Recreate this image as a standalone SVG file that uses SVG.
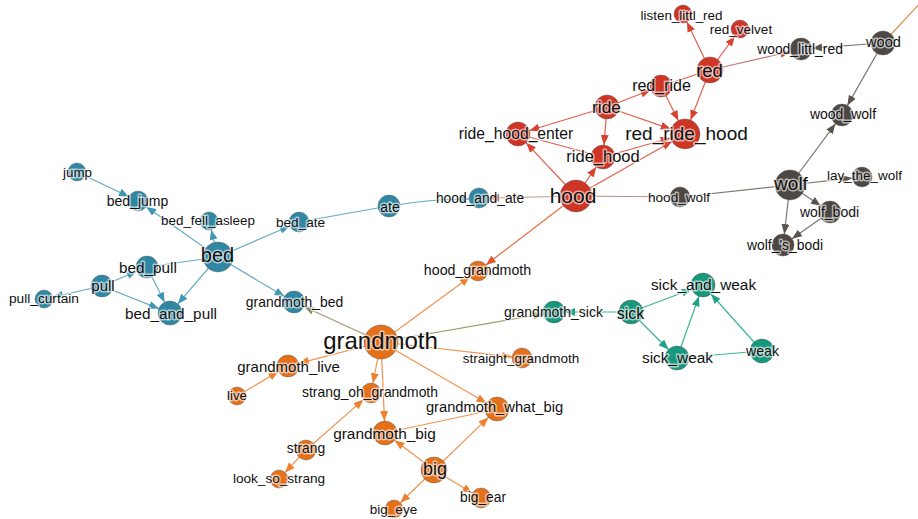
<svg xmlns="http://www.w3.org/2000/svg" width="918" height="519" viewBox="0 0 918 519">
  <style>
    .e { fill: none; stroke-width: 1.2; }
    .eb { stroke: #64aac3; }
    .er { stroke: #e0604e; }
    .eg { stroke: #7d7770; }
    .eo { stroke: #f39250; }
    .et { stroke: #3db596; }
    .n { stroke: #5a5a5a; stroke-opacity: 0.45; stroke-width: 1; }
    .nb { fill: #2f87a3; }
    .nr { fill: #cf3525; }
    .ng { fill: #4d4843; }
    .no { fill: #e5701a; }
    .nt { fill: #17977b; }
    text { font-family: "Liberation Sans", Arial, sans-serif; fill: #111; text-anchor: middle; dominant-baseline: central;
           stroke: #ffffff; stroke-opacity: 0.6; stroke-width: 3; stroke-linejoin: round; paint-order: stroke; }
  </style>
  <defs>
    <marker id="ab" viewBox="0 0 10 8" refX="10" refY="4" markerWidth="10" markerHeight="8" markerUnits="userSpaceOnUse" orient="auto"><path d="M0,0 L10,4 L0,8 z" fill="#3f97b3"/></marker>
    <marker id="ar" viewBox="0 0 10 8" refX="10" refY="4" markerWidth="10" markerHeight="8" markerUnits="userSpaceOnUse" orient="auto"><path d="M0,0 L10,4 L0,8 z" fill="#d8402f"/></marker>
    <marker id="ag" viewBox="0 0 10 8" refX="10" refY="4" markerWidth="10" markerHeight="8" markerUnits="userSpaceOnUse" orient="auto"><path d="M0,0 L10,4 L0,8 z" fill="#5a544e"/></marker>
    <marker id="ao" viewBox="0 0 10 8" refX="10" refY="4" markerWidth="10" markerHeight="8" markerUnits="userSpaceOnUse" orient="auto"><path d="M0,0 L10,4 L0,8 z" fill="#ee7f2e"/></marker>
    <marker id="at" viewBox="0 0 10 8" refX="10" refY="4" markerWidth="10" markerHeight="8" markerUnits="userSpaceOnUse" orient="auto"><path d="M0,0 L10,4 L0,8 z" fill="#1fa384"/></marker>
    <marker id="aor" viewBox="0 0 10 8" refX="10" refY="4" markerWidth="10" markerHeight="8" markerUnits="userSpaceOnUse" orient="auto"><path d="M0,0 L10,4 L0,8 z" fill="#e2562a"/></marker>
    <marker id="aob" viewBox="0 0 10 8" refX="10" refY="4" markerWidth="10" markerHeight="8" markerUnits="userSpaceOnUse" orient="auto"><path d="M0,0 L10,4 L0,8 z" fill="#93876a"/></marker>
    <marker id="aot" viewBox="0 0 10 8" refX="10" refY="4" markerWidth="10" markerHeight="8" markerUnits="userSpaceOnUse" orient="auto"><path d="M0,0 L10,4 L0,8 z" fill="#7f8f4e"/></marker>
    <marker id="arg" viewBox="0 0 10 8" refX="10" refY="4" markerWidth="10" markerHeight="8" markerUnits="userSpaceOnUse" orient="auto"><path d="M0,0 L10,4 L0,8 z" fill="#b0574b"/></marker>
    <marker id="arb" viewBox="0 0 10 8" refX="10" refY="4" markerWidth="10" markerHeight="8" markerUnits="userSpaceOnUse" orient="auto"><path d="M0,0 L10,4 L0,8 z" fill="#b86c6a"/></marker>
  </defs>

  <g id="edges">
    <!-- bed cluster -->
    <line class="e eb" x1="77" y1="172" x2="129" y2="196.7" marker-end="url(#ab)"/>
    <line class="e eb" x1="218" y1="257" x2="146.2" y2="206.7" marker-end="url(#ab)"/>
    <line class="e eb" x1="218" y1="257" x2="211.2" y2="229.7" marker-end="url(#ab)"/>
    <line class="e eb" x1="218" y1="257" x2="289.8" y2="226" marker-end="url(#ab)"/>
    <line class="e eb" x1="218" y1="257" x2="284.5" y2="296.4" marker-end="url(#ab)"/>
    <line class="e eb" x1="218" y1="257" x2="177.8" y2="303.9" marker-end="url(#ab)"/>
    <line class="e eb" x1="218" y1="257" x2="147" y2="267"/>
    <line class="e eb" x1="102" y1="286" x2="136.9" y2="271.3" marker-end="url(#ab)"/>
    <line class="e eb" x1="102" y1="286" x2="158.9" y2="308.6" marker-end="url(#ab)"/>
    <line class="e eb" x1="147" y1="267" x2="164.6" y2="302.3" marker-end="url(#ab)"/>
    <line class="e eb" x1="102" y1="286" x2="52.8" y2="297" marker-end="url(#ab)"/>
    <line class="e eb" x1="389" y1="206" x2="299" y2="222"/>
    <path class="e eb" d="M389,206 Q430,199 469,199" marker-end="url(#ab)"/>
    <line class="e" stroke="#c9a3a1" x1="576" y1="196" x2="489" y2="198" marker-end="url(#arb)"/>

    <!-- hood / red cluster -->
    <line class="e er" x1="576" y1="196" x2="526.2" y2="142.8" marker-end="url(#ar)"/>
    <line class="e er" x1="576" y1="196" x2="596.2" y2="166.9" marker-end="url(#ar)"/>
    <line class="e er" x1="576" y1="196" x2="672" y2="141.4" marker-end="url(#ar)"/>
    <line class="e er" x1="607" y1="107" x2="529.5" y2="130.5" marker-end="url(#ar)"/>
    <line class="e er" x1="607" y1="107" x2="604" y2="145" marker-end="url(#ar)"/>
    <line class="e er" x1="607" y1="107" x2="650.7" y2="90" marker-end="url(#ar)"/>
    <line class="e er" x1="607" y1="107" x2="670.8" y2="129.1" marker-end="url(#ar)"/>
    <line class="e er" x1="518" y1="134" x2="603" y2="157"/>
    <line class="e er" x1="603" y1="157" x2="670.6" y2="138" marker-end="url(#ar)"/>
    <line class="e er" x1="661" y1="86" x2="678.3" y2="120.6" marker-end="url(#ar)"/>
    <line class="e er" x1="710" y1="70" x2="690.5" y2="120" marker-end="url(#ar)"/>
    <line class="e er" x1="710" y1="70" x2="661" y2="86"/>
    <line class="e er" x1="710" y1="70" x2="686.9" y2="22.1" marker-end="url(#ar)"/>
    <line class="e er" x1="710" y1="70" x2="734.7" y2="36.3" marker-end="url(#ar)"/>
    <line class="e" stroke="#c07a70" x1="710" y1="70" x2="790.3" y2="51.5" marker-end="url(#arg)"/>

    <!-- wolf cluster -->
    <line class="e eg" x1="883" y1="43" x2="812" y2="48.2" marker-end="url(#ag)"/>
    <line class="e eg" x1="883" y1="43" x2="847.4" y2="105.4" marker-end="url(#ag)"/>
    <line class="e eg" x1="790" y1="185" x2="835.4" y2="123.8" marker-end="url(#ag)"/>
    <line class="e eg" x1="790" y1="185" x2="852.1" y2="178.1" marker-end="url(#ag)"/>
    <line class="e eg" x1="790" y1="185" x2="820.9" y2="205.9" marker-end="url(#ag)"/>
    <line class="e eg" x1="790" y1="185" x2="784.3" y2="234.1" marker-end="url(#ag)"/>
    <line class="e eg" x1="830" y1="212" x2="792" y2="238.7" marker-end="url(#ag)"/>
    <line class="e" stroke="#b98c86" x1="576" y1="196" x2="680" y2="197"/>
    <line class="e eg" x1="680" y1="197" x2="790" y2="185"/>
    <line class="e" stroke="#d8944f" x1="883" y1="43" x2="924" y2="-1"/>

    <!-- grandmoth cluster -->
    <line class="e" stroke="#ea6c3c" x1="576" y1="196" x2="485.9" y2="264.9" marker-end="url(#aor)"/>
    <line class="e eo" x1="381" y1="342" x2="469.9" y2="276.9" marker-end="url(#ao)"/>
    <line class="e" stroke="#ab9f80" x1="381" y1="342" x2="304" y2="306.6" marker-end="url(#aob)"/>
    <line class="e" stroke="#93a166" x1="381" y1="342" x2="543.2" y2="313.9" marker-end="url(#aot)"/>
    <line class="e eo" x1="381" y1="342" x2="512.1" y2="356.9" marker-end="url(#ao)"/>
    <line class="e eo" x1="381" y1="342" x2="298.7" y2="363.3" marker-end="url(#ao)"/>
    <line class="e eo" x1="237" y1="396" x2="278.5" y2="371.6" marker-end="url(#ao)"/>
    <line class="e eo" x1="381" y1="342" x2="372.9" y2="383.2" marker-end="url(#ao)"/>
    <line class="e eo" x1="381" y1="342" x2="384.5" y2="421" marker-end="url(#ao)"/>
    <line class="e eo" x1="381" y1="342" x2="486.6" y2="403" marker-end="url(#ao)"/>
    <line class="e eo" x1="306" y1="450" x2="363.5" y2="399.6" marker-end="url(#ao)"/>
    <line class="e eo" x1="306" y1="450" x2="285.1" y2="472.4" marker-end="url(#ao)"/>
    <line class="e eo" x1="434" y1="470" x2="394.6" y2="440.2" marker-end="url(#ao)"/>
    <line class="e eo" x1="434" y1="470" x2="488.4" y2="417.4" marker-end="url(#ao)"/>
    <line class="e eo" x1="434" y1="470" x2="400.4" y2="502.7" marker-end="url(#ao)"/>
    <line class="e eo" x1="434" y1="470" x2="472.4" y2="492.9" marker-end="url(#ao)"/>
    <line class="e eo" x1="385" y1="433" x2="497" y2="409"/>

    <!-- sick cluster -->
    <line class="e et" x1="631" y1="312" x2="565" y2="312" marker-end="url(#at)"/>
    <line class="e et" x1="631" y1="312" x2="691.8" y2="289.2" marker-end="url(#at)"/>
    <line class="e et" x1="631" y1="312" x2="668.5" y2="349.5" marker-end="url(#at)"/>
    <line class="e et" x1="677" y1="358" x2="699" y2="296.3" marker-end="url(#at)"/>
    <line class="e et" x1="762" y1="351" x2="711" y2="294" marker-end="url(#at)"/>
    <line class="e et" x1="762" y1="351" x2="677" y2="358"/>
  </g>

  <!-- bed cluster -->
  <g id="jump"><circle class="n nb" cx="77" cy="172" r="9"/><text x="77.5" y="172" font-size="13.4">jump</text></g>
  <g id="bed_jump"><circle class="n nb" cx="138" cy="201" r="10"/><text x="137.5" y="201" font-size="14">bed_jump</text></g>
  <g id="bed_fell_asleep"><circle class="n nb" cx="209" cy="221" r="9"/><text x="208" y="220" font-size="13.4">bed_fell_asleep</text></g>
  <g id="bed"><circle class="n nb" cx="218" cy="257" r="15"/><text x="217.5" y="255" font-size="20">bed</text></g>
  <g id="bed_ate"><circle class="n nb" cx="299" cy="222" r="10"/><text x="300.5" y="222" font-size="13.6">bed_ate</text></g>
  <g id="ate"><circle class="n nb" cx="389" cy="206" r="11"/><text x="390" y="207" font-size="14">ate</text></g>
  <g id="hood_and_ate"><circle class="n nb" cx="479" cy="198" r="10"/><text x="480" y="198" font-size="13.8">hood_and_ate</text></g>
  <g id="bed_pull"><circle class="n nb" cx="147" cy="267" r="11"/><text x="148" y="267" font-size="15.3">bed_pull</text></g>
  <g id="pull"><circle class="n nb" cx="102" cy="286" r="11"/><text x="103" y="285" font-size="15">pull</text></g>
  <g id="pull_curtain"><circle class="n nb" cx="44" cy="299" r="9"/><text x="44" y="298" font-size="13.7">pull_curtain</text></g>
  <g id="bed_and_pull"><circle class="n nb" cx="170" cy="313" r="12"/><text x="171" y="313" font-size="15.3">bed_and_pull</text></g>
  <g id="grandmoth_bed"><circle class="n nb" cx="294" cy="302" r="11"/><text x="294.5" y="302" font-size="13.9">grandmoth_bed</text></g>

  <!-- hood / red cluster -->
  <g id="hood"><circle class="n nr" cx="576" cy="196" r="16"/><text x="573" y="195" font-size="21">hood</text></g>
  <g id="ride_hood_enter"><circle class="n nr" cx="518" cy="134" r="12"/><text x="516" y="133" font-size="15.7">ride_hood_enter</text></g>
  <g id="ride_hood"><circle class="n nr" cx="603" cy="157" r="12"/><text x="603" y="156" font-size="16.5">ride_hood</text></g>
  <g id="ride"><circle class="n nr" cx="607" cy="107" r="12"/><text x="606.5" y="107" font-size="17.4">ride</text></g>
  <g id="red_ride"><circle class="n nr" cx="661" cy="86" r="11"/><text x="661.5" y="85" font-size="16">red_ride</text></g>
  <g id="red"><circle class="n nr" cx="710" cy="70" r="13"/><text x="709.5" y="70" font-size="18.5">red</text></g>
  <g id="red_ride_hood"><circle class="n nr" cx="685" cy="134" r="15"/><text x="686.5" y="133" font-size="19">red_ride_hood</text></g>
  <g id="listen_littl_red"><circle class="n nr" cx="683" cy="14" r="9"/><text x="681.5" y="15" font-size="13.4">listen_littl_red</text></g>
  <g id="red_velvet"><circle class="n nr" cx="740" cy="29" r="9"/><text x="741" y="29" font-size="13.5">red_velvet</text></g>

  <!-- wolf cluster -->
  <g id="wood_littl_red"><circle class="n ng" cx="801" cy="49" r="11"/><text x="800" y="49" font-size="13.9">wood_littl_red</text></g>
  <g id="wood"><circle class="n ng" cx="883" cy="43" r="12"/><text x="883.5" y="42" font-size="14.6">wood</text></g>
  <g id="wood_wolf"><circle class="n ng" cx="842" cy="115" r="11"/><text x="843" y="114" font-size="14">wood_wolf</text></g>
  <g id="wolf"><circle class="n ng" cx="790" cy="185" r="15"/><text x="791" y="183" font-size="19">wolf</text></g>
  <g id="lay_the_wolf"><circle class="n ng" cx="862" cy="177" r="10"/><text x="864.5" y="175" font-size="13.5">lay_the_wolf</text></g>
  <g id="hood_wolf"><circle class="n ng" cx="680" cy="197" r="10"/><text x="679" y="197" font-size="13.6">hood_wolf</text></g>
  <g id="wolf_bodi"><circle class="n ng" cx="830" cy="212" r="11"/><text x="829.5" y="212" font-size="14">wolf_bodi</text></g>
  <g id="wolf_s_bodi"><circle class="n ng" cx="783" cy="245" r="11"/><text x="785" y="245" font-size="13.9">wolf_'s_bodi</text></g>

  <!-- grandmoth cluster -->
  <g id="grandmoth"><circle class="n no" cx="381" cy="342" r="17"/><text x="380.5" y="340" font-size="24">grandmoth</text></g>
  <g id="hood_grandmoth"><circle class="n no" cx="478" cy="271" r="10"/><text x="477.5" y="270" font-size="14.2">hood_grandmoth</text></g>
  <g id="grandmoth_live"><circle class="n no" cx="288" cy="366" r="11"/><text x="288.5" y="366" font-size="15">grandmoth_live</text></g>
  <g id="live"><circle class="n no" cx="237" cy="396" r="9"/><text x="237" y="395" font-size="13.3">live</text></g>
  <g id="strang_oh_grandmoth"><circle class="n no" cx="371" cy="393" r="10"/><text x="370" y="392" font-size="13.9">strang_oh_grandmoth</text></g>
  <g id="grandmoth_big"><circle class="n no" cx="385" cy="433" r="12"/><text x="384.5" y="433" font-size="15.4">grandmoth_big</text></g>
  <g id="grandmoth_what_big"><circle class="n no" cx="497" cy="409" r="12"/><text x="494.5" y="407" font-size="14.7">grandmoth_what_big</text></g>
  <g id="strang"><circle class="n no" cx="306" cy="450" r="10"/><text x="306" y="448" font-size="13.9">strang</text></g>
  <g id="look_so_strang"><circle class="n no" cx="279" cy="479" r="9"/><text x="279" y="478" font-size="13.6">look_so_strang</text></g>
  <g id="big"><circle class="n no" cx="434" cy="470" r="13"/><text x="435" y="469" font-size="18">big</text></g>
  <g id="big_eye"><circle class="n no" cx="394" cy="509" r="9"/><text x="393.5" y="509" font-size="13.5">big_eye</text></g>
  <g id="big_ear"><circle class="n no" cx="481" cy="498" r="10"/><text x="483" y="497" font-size="13.8">big_ear</text></g>
  <g id="straight_grandmoth"><circle class="n no" cx="522" cy="358" r="10"/><text x="521" y="358" font-size="13.5">straight_grandmoth</text></g>

  <!-- sick cluster -->
  <g id="grandmoth_sick"><circle class="n nt" cx="554" cy="312" r="11"/><text x="553.5" y="312" font-size="14">grandmoth_sick</text></g>
  <g id="sick"><circle class="n nt" cx="631" cy="312" r="12"/><text x="630.5" y="313" font-size="16">sick</text></g>
  <g id="sick_and_weak"><circle class="n nt" cx="703" cy="285" r="12"/><text x="703.5" y="284" font-size="15.4">sick_and_weak</text></g>
  <g id="sick_weak"><circle class="n nt" cx="677" cy="358" r="12"/><text x="677.5" y="357" font-size="15.4">sick_weak</text></g>
  <g id="weak"><circle class="n nt" cx="762" cy="351" r="12"/><text x="762.5" y="351" font-size="14.1">weak</text></g>
</svg>
